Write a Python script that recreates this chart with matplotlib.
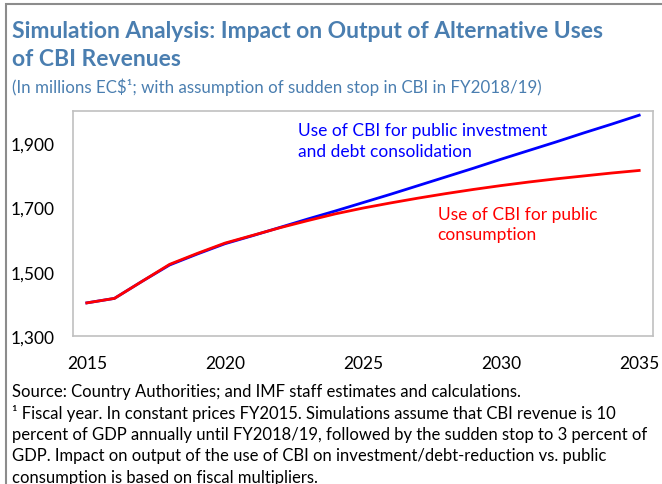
import matplotlib
matplotlib.use("Agg")
import matplotlib.pyplot as plt
from matplotlib.patches import Rectangle

years = list(range(2015, 2036))
invest = [1403, 1417, 1470, 1521, 1555, 1587, 1612, 1638, 1664, 1689, 1715,
          1741, 1768, 1795, 1822, 1850, 1877, 1904, 1932, 1959, 1987]
consum = [1403, 1417, 1470, 1523, 1557, 1589, 1613, 1637, 1659, 1680, 1698,
          1714, 1729, 1743, 1756, 1768, 1779, 1789, 1798, 1807, 1815]
xticks = [2015, 2020, 2025, 2030, 2035]
yticks = [1300, 1500, 1700, 1900]

W, H = 662, 485
fig = plt.figure(figsize=(W / 100, H / 100), dpi=100)
plt.rcParams['font.family'] = ['Lato', 'DejaVu Sans']

def fx(x):
    return x / W

def fy(y):
    return 1 - y / H

# outer border
fig.patches.append(Rectangle((fx(6), fy(600)), fx(700), fy(5) - fy(600),
                             transform=fig.transFigure, fill=False,
                             edgecolor='#8c8c8c', linewidth=1.5))

title_col = '#4a7eb0'
fig.text(fx(12), fy(38), 'Simulation Analysis: Impact on Output of Alternative Uses',
         fontsize=16.5, fontweight='bold', color=title_col, va='baseline', ha='left')
fig.text(fx(12), fy(66), 'of CBI Revenues',
         fontsize=16.5, fontweight='bold', color=title_col, va='baseline', ha='left')
fig.text(fx(12), fy(93), '(In millions EC$\u00b9; with assumption of sudden stop in CBI in FY2018/19)',
         fontsize=12.2, color=title_col, va='baseline', ha='left')

ax = fig.add_axes([fx(73), fy(337), fx(653) - fx(73), fy(112) - fy(337)])
ax.plot(years, invest, color='#0000ff', linewidth=2.0, zorder=2)
ax.plot(years, consum, color='#ff0000', linewidth=2.0, zorder=3)
ax.set_xlim(2014.5, 2035.5)
ax.set_ylim(1300, 2000)
ax.set_xticks(xticks)
ax.set_xticklabels([str(t) for t in xticks])
ax.set_yticks(yticks)
ax.set_yticklabels([f'{t:,}' for t in yticks])
ax.tick_params(length=0, labelsize=12.5, colors='black')
ax.tick_params(axis='x', pad=14)
ax.tick_params(axis='y', pad=13)
for s in ax.spines.values():
    s.set_color('#c0c0c0')
    s.set_linewidth(1.2)

ax.text(2022.65, 1908, 'Use of CBI for public investment\nand debt consolidation',
        color='#0000ff', fontsize=12.5, va='center', ha='left', linespacing=1.32)
ax.text(2027.7, 1648, 'Use of CBI for public\nconsumption',
        color='#ff0000', fontsize=12.5, va='center', ha='left', linespacing=1.32)

notes = [
    'Source: Country Authorities; and IMF staff estimates and calculations.',
    '\u00b9 Fiscal year. In constant prices FY2015. Simulations assume that CBI revenue is 10',
    'percent of GDP annually until FY2018/19, followed by the sudden stop to 3 percent of',
    'GDP. Impact on output of the use of CBI on investment/debt-reduction vs. public',
    'consumption is based on fiscal multipliers.',
]
for i, line in enumerate(notes):
    fig.text(fx(12), fy(397 + i * 21.5), line, fontsize=12.0, color='black',
             va='baseline', ha='left')

fig.savefig('out.png', dpi=100)
